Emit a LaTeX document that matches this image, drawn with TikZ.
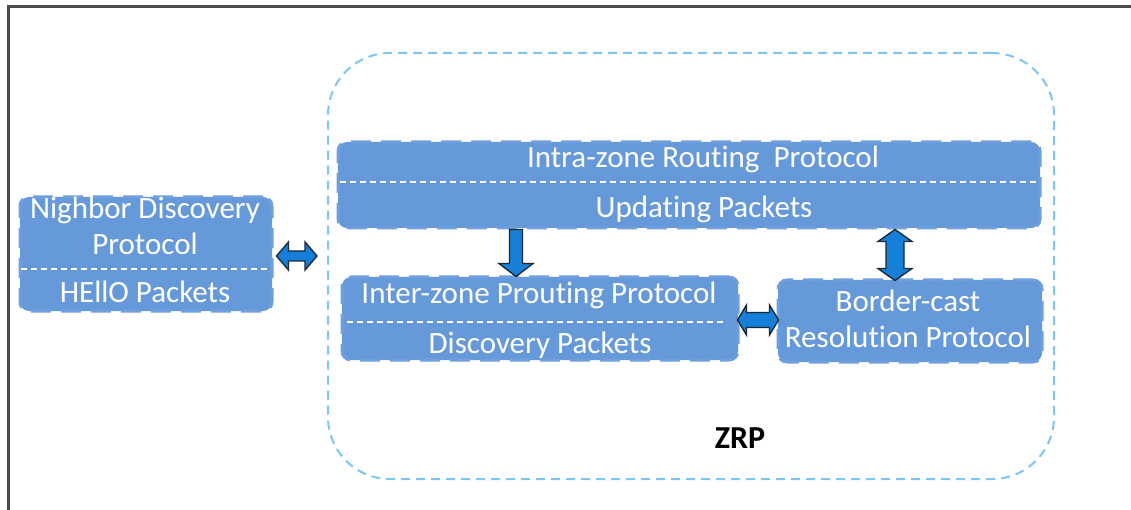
\documentclass[tikz,border=0pt]{standalone}
\usepackage{fontspec}
\setmainfont{Carlito}[Ligatures=NoCommon]
\usetikzlibrary{calc}
\definecolor{boxblue}{HTML}{6699DA}
\definecolor{boxedge}{HTML}{6F9FDC}
\definecolor{zrpline}{HTML}{7CC6F6}
\definecolor{arrfill}{HTML}{1680D8}
\definecolor{arrline}{HTML}{1C2A38}
\definecolor{framegray}{HTML}{4A4A4A}
\tikzset{
  box/.style={draw=boxedge, fill=boxblue, rounded corners=9pt, line width=3pt,
    dash pattern=on 20pt off 10pt, inner sep=0pt},
  sep/.style={draw=white, line width=1.3pt, dash pattern=on 6pt off 4pt},
  lbl/.style={text=white, font=\fontsize{31}{35}\selectfont, anchor=base, inner sep=0pt},
  arrowshape/.style={fill=arrfill, draw=arrline, line width=1.4pt, line join=miter},
  zrpbox/.style={draw=zrpline, line width=2pt, dash pattern=on 9pt off 6pt, rounded corners=62pt}
}
\newcommand\hdarrow[5]{\draw[arrowshape] let \p1=#1, \p2=#2 in
 (\x1,\y1) -- (\x1+#5,\y1+#3) -- (\x1+#5,\y1+#4) -- (\x2-#5,\y1+#4) -- (\x2-#5,\y1+#3)
 -- (\x2,\y1) -- (\x2-#5,\y1-#3) -- (\x2-#5,\y1-#4) -- (\x1+#5,\y1-#4) -- (\x1+#5,\y1-#3) -- cycle;}
\newcommand\vdarrow[5]{\draw[arrowshape] let \p1=#1, \p2=#2 in
 (\x2,\y1) -- (\x2+#3,\y1-#5) -- (\x2+#4,\y1-#5) -- (\x2+#4,\y2+#5) -- (\x2+#3,\y2+#5)
 -- (\x2,\y2) -- (\x2-#3,\y2+#5) -- (\x2-#4,\y2+#5) -- (\x2-#4,\y1-#5) -- (\x2-#3,\y1-#5) -- cycle;}
\newcommand\sdarrow[5]{\draw[arrowshape] let \p1=#1, \p2=#2 in
 (\x2-#4,\y1) -- (\x2+#4,\y1) -- (\x2+#4,\y2+#5) -- (\x2+#3,\y2+#5) -- (\x2,\y2)
 -- (\x2-#3,\y2+#5) -- (\x2-#4,\y2+#5) -- cycle;}
\begin{document}
\begin{tikzpicture}[x=1pt,y=-1pt]
\useasboundingbox (0,0) rectangle (1131,510);
\clip (0,0) rectangle (1131,510);
\fill[white] (0,0) rectangle (1131,510);
% outer frame
\draw[framegray, line width=2.2pt] (8.5,530) -- (8.5,6.5) -- (1150,6.5);
% ZRP container
\node[zrpbox, minimum width=726pt, minimum height=426pt, inner sep=0pt] (zrp) at (691,266) {};
\node[font=\fontsize{32}{36}\selectfont\bfseries, anchor=base, inner sep=0pt] (zrplbl) at (740,448) {ZRP};
% boxes
\node[box, minimum width=252pt, minimum height=114pt] (ndp) at (146,254) {};
\node[box, minimum width=702pt, minimum height=86pt] (intra) at (689,185) {};
\node[box, minimum width=396pt, minimum height=83pt] (inter) at (540,318.5) {};
\node[box, minimum width=264pt, minimum height=82pt] (border) at (910,321) {};
% separators
\draw[sep] (21,269) -- (270,269);
\draw[sep] (340,182) -- (1038,182);
\draw[sep] (347,322) -- (724,322);
% labels
\node[lbl] (t1) at (145,219) {Nighbor Discovery};
\node[lbl] (t2) at (145,255) {Protocol};
\node[lbl] (t3) at (145,302) {HEllO Packets};
\node[lbl] (t4) at (703,168) {Intra-zone Routing\ \ Protocol};
\node[lbl] (t5) at (704,218) {Updating Packets};
\node[lbl] (t6) at (539,303) {Inter-zone Prouting Protocol};
\node[lbl] (t7) at (540,353) {Discovery Packets};
\node[lbl] (t8) at (908,312) {Border-cast};
\node[lbl] (t9) at (908,347) {Resolution Protocol};
% arrows
\coordinate (a1) at ([xshift=3pt,yshift=-2pt]ndp.east);
\coordinate (a2) at ([xshift=-10pt]zrp.west);
\hdarrow{(a1)}{(a2)}{14pt}{5pt}{12pt}
\coordinate (d1) at ([xshift=-24pt,yshift=-1pt]inter.north);
\sdarrow{(intra.south -| d1)}{(d1)}{17pt}{6.5pt}{13pt}
\coordinate (v1) at ([xshift=-15pt,yshift=-2pt]border.north);
\vdarrow{(intra.south -| v1)}{(v1)}{17pt}{9pt}{12pt}
\coordinate (h1) at ([xshift=-2pt,yshift=-1.5pt]inter.east);
\coordinate (h2) at ([xshift=2pt]border.west);
\hdarrow{(h1)}{(h2)}{15pt}{7.5pt}{9pt}
\end{tikzpicture}
\end{document}
